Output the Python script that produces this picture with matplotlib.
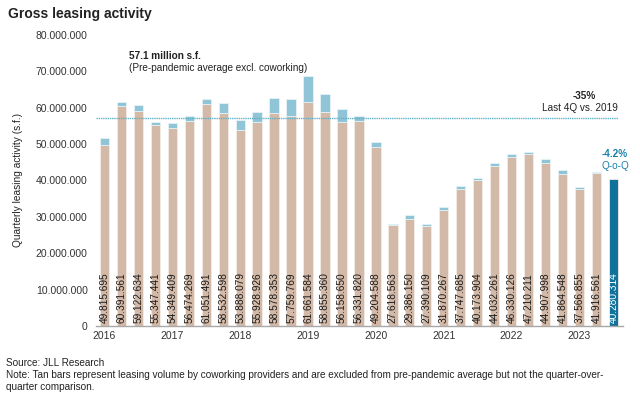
import matplotlib
matplotlib.use("Agg")
import matplotlib.pyplot as plt
import numpy as np

plt.rcParams["font.family"] = ["Liberation Sans", "DejaVu Sans"]

# quarterly gross leasing, 2016 Q1 .. 2023 Q3 (s.f.)
years = ["2016", "2017", "2018", "2019", "2020", "2021", "2022", "2023"]
excl_coworking = [
    49815695, 60391561, 59122634, 55347441, 54349409, 56474269, 61051491, 58532598,
    53888079, 55928926, 58578353, 57759769, 61661584, 58855360, 56158650, 56331820,
    49204588, 27618563, 29386150, 27390109, 31870267, 37747685, 40173904, 44032261,
    46330126, 47210211, 44907998, 41864548, 37566855, 41916561, 40280314,
]
# coworking volume stacked on top (millions s.f.)
coworking_m = [
    1.8, 1.1, 1.6, 0.7, 1.4, 1.2, 1.4, 2.8,
    2.7, 2.9, 4.1, 4.6, 7.0, 4.9, 3.4, 1.4,
    1.3, 0.4, 1.0, 0.6, 0.8, 0.8, 0.6, 0.7,
    0.9, 0.7, 1.0, 0.9, 0.6, 0.3, 0.0,
]
prepandemic_avg = 57.1e6

TAN = "#d3b9a7"
BLUE = "#8fc5d6"
DARK = "#10729a"
TEAL_TXT = "#1a80ab"


def fmt_dots(v):
    return f"{int(round(v)):,}".replace(",", ".")


fig = plt.figure(figsize=(6.4, 3.97), dpi=100)
ax = fig.add_axes([0.15, 0.179, 0.823, 0.733])

n = len(excl_coworking)
x = np.arange(n)
base = np.array(excl_coworking, dtype=float)
cow = np.array(coworking_m) * 1e6
colors = [TAN] * (n - 1) + [DARK]

ax.bar(x, base, width=0.55, color=colors, edgecolor="#f4ece6", linewidth=0.6)
ax.bar(x[:-1], cow[:-1], bottom=base[:-1], width=0.55, color=BLUE,
       edgecolor="#e6f2f6", linewidth=0.6)

for i, v in enumerate(base):
    ax.text(i, 0.8e6, fmt_dots(v), rotation=90, ha="center", va="bottom",
            fontsize=7.3, color="white" if i == n - 1 else "#1a1a1a")

# pre-pandemic average line
ax.plot([-0.5, n - 0.75], [prepandemic_avg] * 2, color="#5fb0c8",
        linestyle=(0, (1, 0.6)), linewidth=1.0, zorder=3)

ax.set_xlim(-0.5, n - 0.45)
ax.set_ylim(0, 80e6)
ticks = np.arange(0, 80e6 + 1, 10e6)
ax.set_yticks(ticks)
ax.set_yticklabels([fmt_dots(v) if v else "0" for v in ticks],
                   fontsize=7.5, color="#333333")
ax.set_xticks(np.arange(0, n, 4))
ax.set_xticklabels(years, fontsize=7.5, color="#333333")
ax.tick_params(axis="both", length=0, pad=4)
ax.tick_params(axis="y", pad=6)
for s in ["top", "right", "left"]:
    ax.spines[s].set_visible(False)
ax.spines["bottom"].set_color("#a8a8a8")
ax.spines["bottom"].set_linewidth(1.0)
ax.set_ylabel("Quarterly leasing activity (s.f.)", fontsize=7.3, color="#222222",
              labelpad=9)

ax.text(1.45, 74.2e6, "57.1 million s.f.", fontsize=7.2, fontweight="bold",
        color="#222222", va="center")
ax.text(1.45, 70.9e6, "(Pre-pandemic average excl. coworking)", fontsize=7.2,
        color="#222222", va="center")
ax.text(28.3, 63.2e6, "-35%", fontsize=7.2, fontweight="bold", color="#222222",
        ha="center", va="center")
ax.text(30.25, 59.9e6, "Last 4Q vs. 2019", fontsize=7.2, color="#222222",
        ha="right", va="center")
ax.text(30.1, 47.3e6, "-4.2%", fontsize=7.2, fontweight="bold", color=TEAL_TXT,
        ha="center", va="center")
ax.text(30.1, 44.0e6, "Q-o-Q", fontsize=7.2, color=TEAL_TXT,
        ha="center", va="center")

fig.text(0.012, 0.965, "Gross leasing activity", fontsize=10, fontweight="bold",
         color="#222222", va="center")
fig.text(0.01, 0.086, "Source: JLL Research", fontsize=7.2, color="#222222", va="center")
fig.text(0.01, 0.056, "Note: Tan bars represent leasing volume by coworking providers and are "
         "excluded from pre-pandemic average but not the quarter-over-", fontsize=7.2,
         color="#222222", va="center")
fig.text(0.01, 0.026, "quarter comparison.", fontsize=7.2, color="#222222", va="center")

fig.savefig("out.png", dpi=100)
